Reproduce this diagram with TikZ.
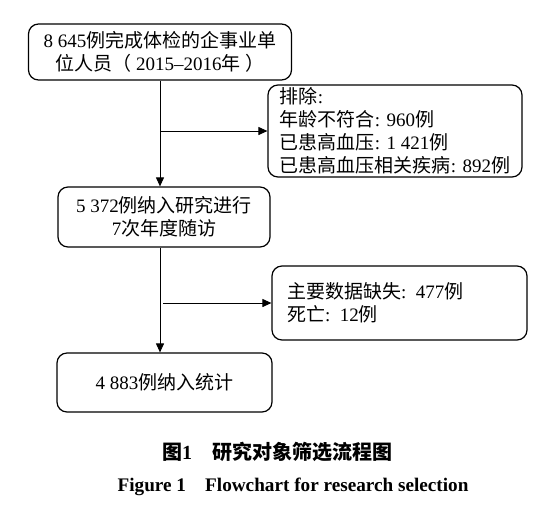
\documentclass[tikz,border=0pt]{standalone}
\usepackage{fontspec}
\setmainfont{Liberation Serif}
\newfontfamily\zh{Noto Sans CJK SC}
\usetikzlibrary{arrows.meta, positioning}

\tikzset{
  flowbox/.style={draw, line width=0.6pt, rounded corners=5pt, align=center,
    inner sep=0pt},
  flowline/.style={line width=0.5pt, -{Triangle[length=4.5pt, width=4pt]}},
}

\begin{document}
\begin{tikzpicture}[x=0.5pt, y=-0.5pt,
  font=\fontsize{9.5}{11.5}\selectfont]
  \useasboundingbox (0,0) rectangle (546,531);
  % main column
  \node[flowbox, minimum width=131.5pt, minimum height=28pt] (total) at (160,52)
    {8 645{\zh 例完成体检的企事业单}\\{\zh 位人员（}\ 2015--2016{\zh 年}\ {\zh ）}};
  \node[flowbox, minimum width=106pt, minimum height=30pt] (follow) at (164,217)
    {5 372{\zh 例纳入研究进行}\\7{\zh 次年度随访}};
  \node[flowbox, minimum width=107.5pt, minimum height=29.5pt] (final) at (164.5,382.5)
    {4 883{\zh 例纳入统计}};
  % side boxes
  \node[flowbox, align=left, minimum width=127pt, minimum height=46pt] (excl) at (395,131)
    {{\zh 排除}:\\{\zh 年龄不符合}: 960{\zh 例}\\{\zh 已患高血压}: 1 421{\zh 例}\\{\zh 已患高血压相关疾病}: 892{\zh 例}};
  \node[flowbox, align=left, text width=112.5pt, inner xsep=7.5pt,
    minimum height=37pt] (lost) at (399.5,303)
    {{\zh 主要数据缺失}: 477{\zh 例}\\{\zh 死亡}: 12{\zh 例}};
  % connectors
  \draw[flowline] (total.south) -- (total.south |- follow.north);
  \draw[flowline] (total.south |- follow.south) -- (total.south |- final.north);
  \draw[flowline] (total.south |- excl.west) -- (excl.west);
  \draw[flowline] ([xshift=1.5pt]total.south |- lost.west) -- (lost.west);
  % caption
  \node[font=\fontsize{10}{12}\selectfont\bfseries] (capzh) at (277,452)
    {{\zh 图}1\quad{\zh 研究对象筛选流程图}};
  \node[font=\fontsize{9.6}{11}\selectfont\bfseries] (capen) at (293,487)
    {Figure 1\quad Flowchart for research selection};
\end{tikzpicture}
\end{document}
